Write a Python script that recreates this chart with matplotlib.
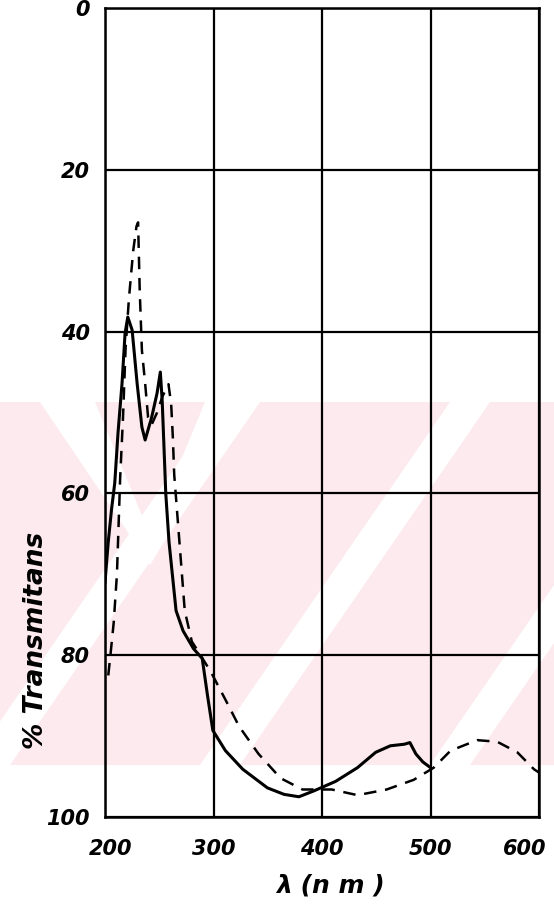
import matplotlib
matplotlib.use('Agg')
import matplotlib.pyplot as plt
import matplotlib.transforms as mtransforms
from matplotlib.patches import Polygon

# solid curve (wavelength nm, % transmittance)
solid_nm = [200, 203, 206, 209, 212, 215.7, 218.5, 221, 225, 229.6, 234, 237,
            243, 248, 251, 252.7, 254, 256, 259, 265.5, 272, 281.6, 289.6,
            294.5, 299.4, 311, 327, 349.7, 365, 378.7, 392, 412.5, 432.7,
            449.5, 463, 476, 481, 486.5, 493, 500]
solid_t = [71, 66, 62, 58.7, 52.5, 46.4, 40.2, 38.2, 39.8, 46.4, 51.8, 53.4,
           50.6, 47.6, 45, 48.5, 53, 60, 66, 74.5, 77, 79.2, 80.4,
           85, 89.3, 91.8, 94.1, 96.4, 97.2, 97.5, 96.8, 95.6, 93.9,
           92, 91.2, 91, 90.8, 92.2, 93.2, 93.9]

# dashed curve
dashed_nm = [203, 205, 208, 211, 213, 214, 216.6, 219, 222, 226, 229, 230.5,
             232, 234, 237, 239.7, 243, 248, 253, 258.5, 261, 262.5, 263.8,
             268.6, 273.5, 280, 288, 297.7, 311, 323.6, 341.5, 361.8, 382,
             409, 432.7, 459.6, 484.6, 503, 518.5, 543, 561.5, 580, 595.4, 600]
dashed_t = [82.5, 80, 76, 70, 62, 58, 50.6, 42, 36, 30, 27, 26.5,
            34.9, 42.3, 46.4, 50.6, 51.5, 50, 48, 46.5, 49, 53, 57.7,
            66, 74.5, 78.3, 80, 82.1, 85.5, 88.8, 92.2, 95.2, 96.6,
            96.6, 97.3, 96.6, 95.4, 93.9, 91.8, 90.5, 90.7, 92, 94.1, 94.5]

x_ticks = [200, 300, 400, 500, 600]
y_ticks = [0, 20, 40, 60, 80, 100]

W, H = 554, 919
fig = plt.figure(figsize=(W / 100, H / 100), dpi=100)


def px(x, y):
    return (x / W, 1 - y / H)


def bg_poly(pts, color):
    fig.patches.append(Polygon([px(*p) for p in pts], closed=True, transform=fig.transFigure,
                               facecolor=color, edgecolor='none', zorder=0))


# faint pink watermark band with white diagonal stripes (scan background)
pink = '#fceaee'
band_top, band_bot = 402, 765
bg_poly([(0, band_top), (W, band_top), (W, band_bot), (0, band_bot)], pink)
shift = 250
for b in [-30, 200, 430]:
    bg_poly([(b, band_bot), (b + 40, band_bot), (b + 40 + shift, band_top), (b + shift, band_top)], 'white')
# white chevron on the left
bg_poly([(40, band_top), (95, band_top), (150, 535), (205, band_top), (250, band_top),
         (150, 565)], 'white')

ax = fig.add_axes([105 / W, 1 - 817 / H, 434 / W, 809 / H])
ax.set_zorder(2)
ax.patch.set_alpha(0)

ax.plot(solid_nm, solid_t, color='black', lw=2.2, solid_joinstyle='round', zorder=3)
ax.plot(dashed_nm, dashed_t, color='black', lw=1.8, linestyle=(0, (5, 3.5)), zorder=3)

ax.set_xlim(200, 600)
ax.set_ylim(100, 0)
ax.set_xticks(x_ticks)
ax.set_yticks(y_ticks)
ax.grid(True, color='black', lw=1.6)
ax.set_axisbelow(True)
for s in ax.spines.values():
    s.set_linewidth(1.8)
    s.set_color('black')

ax.tick_params(length=0)
ax.tick_params(axis='x', pad=16)
ax.tick_params(axis='y', pad=11)
for lab in ax.get_xticklabels() + ax.get_yticklabels():
    lab.set_fontsize(15)
    lab.set_fontweight('bold')
    lab.set_fontstyle('italic')

# end x labels sit a little inward in the original
xl = ax.get_xticklabels()
xl[-1].set_transform(xl[-1].get_transform() + mtransforms.ScaledTranslation(-14 / 100, 0, fig.dpi_scale_trans))
xl[0].set_transform(xl[0].get_transform() + mtransforms.ScaledTranslation(6 / 100, 0, fig.dpi_scale_trans))

ax.set_ylabel('% Transmitans', fontsize=19, fontstyle='italic', fontweight='semibold')
ax.yaxis.set_label_coords(-0.13, 0.218)
ax.set_xlabel('λ (n m )', fontsize=18, fontstyle='italic', fontweight='bold')
ax.xaxis.set_label_coords(0.52, -0.07)

fig.savefig('out.png', dpi=100)
